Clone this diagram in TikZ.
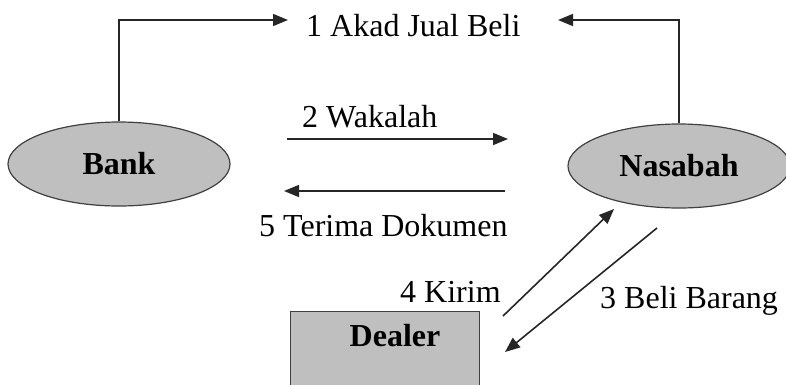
\documentclass[tikz,border=0pt]{standalone}
\usepackage{fontspec}
\setmainfont{Liberation Serif}
\usetikzlibrary{arrows.meta,shapes.geometric}
\begin{document}
\begin{tikzpicture}[x=1pt,y=-1pt,
  party/.style={ellipse,draw=black!75,line width=1.2pt,fill=black!25,
    minimum width=222pt,minimum height=84pt,inner sep=0pt,
    font=\fontsize{32}{36}\selectfont\bfseries},
  shop/.style={rectangle,draw=black!75,line width=1.2pt,fill=black!25,
    minimum width=189pt,minimum height=100pt,inner sep=0pt},
  flow/.style={draw=black!85,line width=1.6pt,-{Triangle[length=15pt,width=12pt]}},
  lbl/.style={inner sep=0pt,anchor=base west,font=\fontsize{32}{36}\selectfont}]
\useasboundingbox (0,0) rectangle (786,384);

% parties
\node[party] (bank) at (119,164) {Bank};
\node[party] (nasabah) at (679,166) {Nasabah};
\node[shop,anchor=north west] (dealer) at (290,311) {};
\node[font=\fontsize{32}{36}\selectfont\bfseries] (dealerlbl) at (395,336) {Dealer};

% labels
\node[lbl] (akad) at (306,36) {1 Akad Jual Beli};
\node[lbl] (wakalah) at (302,127) {2 Wakalah};
\node[lbl] (terima) at (259,236) {5 Terima Dokumen};
\node[lbl] (kirim) at (400,302) {4 Kirim};
\node[lbl] (beli) at (600,308) {3 Beli Barang};

% arrow end points
\coordinate (akadL) at (288,20);
\coordinate (akadR) at (558,20);
\coordinate (wakS) at (287,139);
\coordinate (wakE) at (508,139);
\coordinate (terS) at (505,191);
\coordinate (terE) at (284,191);
\coordinate (kirS) at (503,316);
\coordinate (kirE) at (614,209);
\coordinate (belS) at (657,228);
\coordinate (belE) at (505,352);

% 1 Akad Jual Beli
\draw[flow] (bank.north) |- (akadL);
\draw[flow] (nasabah.north) |- (akadR);
% 2 Wakalah, 5 Terima Dokumen
\draw[flow] (wakS) -- (wakE);
\draw[flow] (terS) -- (terE);
% 4 Kirim, 3 Beli Barang
\draw[flow] (kirS) -- (kirE);
\draw[flow] (belS) -- (belE);
\end{tikzpicture}
\end{document}
